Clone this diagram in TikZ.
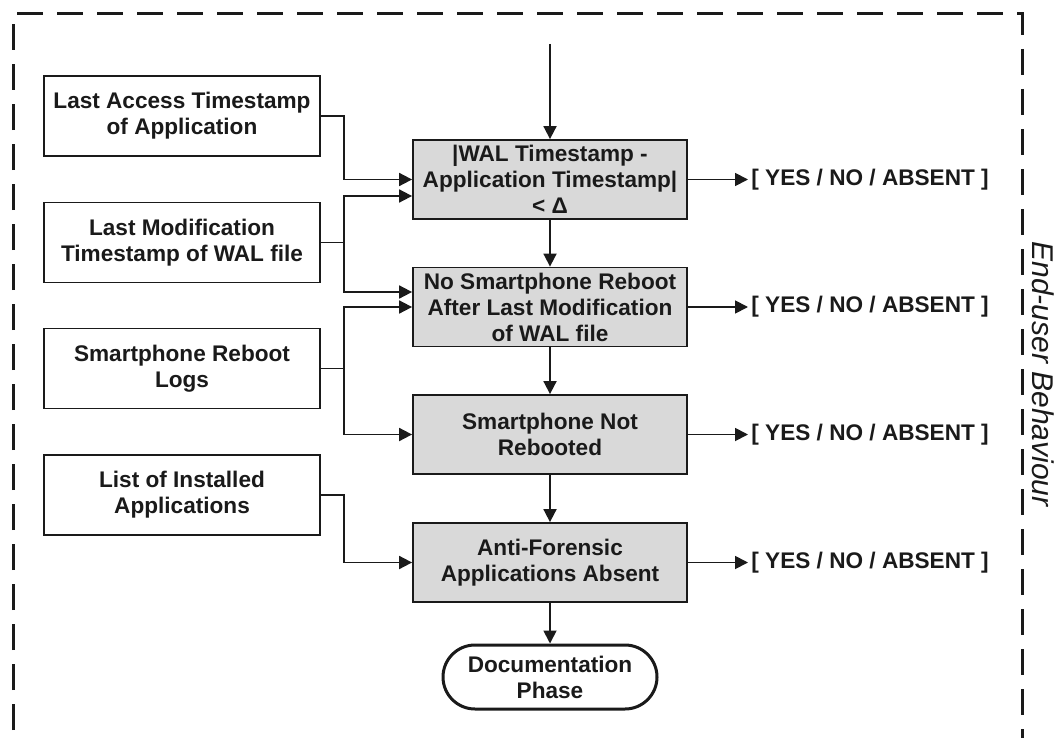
\documentclass[tikz,border=0pt]{standalone}
\usepackage{fontspec}
\setmainfont{Liberation Sans}
\usetikzlibrary{arrows.meta,calc}
\definecolor{boxgray}{HTML}{D9D9D9}
\definecolor{ink}{HTML}{1A1A1A}
\tikzset{
  every node/.style={font=\fontsize{11.3}{13}\selectfont\bfseries, text=ink, align=center},
  srcbox/.style={draw=ink, line width=0.9pt, fill=white, minimum width=138pt, minimum height=40pt, inner sep=0pt},
  testbox/.style={draw=ink, line width=0.9pt, fill=boxgray, minimum width=137pt, minimum height=39.5pt, inner sep=0pt},
  termbox/.style={draw=ink, line width=1.5pt, fill=white, rounded corners=16pt, minimum width=107pt, minimum height=32pt, inner sep=0pt},
  outcome/.style={anchor=west, inner sep=1.5pt},
  flow/.style={draw=ink, line width=0.9pt, -{Triangle[length=6.5pt,width=6.5pt]}},
  wire/.style={draw=ink, line width=0.9pt},
  frame/.style={draw=ink, line width=1.5pt, dash pattern=on 13pt off 7pt}
}
\begin{document}
\begin{tikzpicture}[x=0.5pt,y=-0.5pt]
  \useasboundingbox (0,0) rectangle (1059,738);
  \clip (0,0) rectangle (1059,738);

  % dashed enclosure, open below the visible area
  \draw[frame] (13,770) -- (13,14) -- (1022,14) -- (1022,770);
  \node[rotate=-90, font=\fontsize{15}{17}\selectfont\itshape] (lane) at (1043,374) {End-user Behaviour};

  % evidence sources
  \node[srcbox] (src1) at (182,116)   {Last Access Timestamp\\of Application};
  \node[srcbox] (src2) at (182,242.5) {Last Modification\\Timestamp of WAL file};
  \node[srcbox] (src3) at (182,368.5) {Smartphone Reboot\\Logs};
  \node[srcbox] (src4) at (182,495)   {List of Installed\\Applications};

  % checks
  \node[testbox] (t1) at (550,179.5) {|WAL Timestamp -\\Application Timestamp|\\< Δ};
  \node[testbox] (t2) at (550,307)   {No Smartphone Reboot\\After Last Modification\\of WAL file};
  \node[testbox] (t3) at (550,434.5) {Smartphone Not\\Rebooted};
  \node[testbox] (t4) at (550,562.5) {Anti-Forensic\\Applications Absent};

  \node[termbox] (doc) at (550,677) {Documentation\\Phase};

  % outcomes
  \node[outcome] (o1) at (748,179.5) {[ YES / NO / ABSENT ]};
  \node[outcome] (o2) at (748,307)   {[ YES / NO / ABSENT ]};
  \node[outcome] (o3) at (748,434.5) {[ YES / NO / ABSENT ]};
  \node[outcome] (o4) at (748,562.5) {[ YES / NO / ABSENT ]};

  % main flow
  \coordinate (entry) at (550,44);
  \draw[flow] (entry) -- (t1.north);
  \draw[flow] (t1.south) -- (t2.north);
  \draw[flow] (t2.south) -- (t3.north);
  \draw[flow] (t3.south) -- (t4.north);
  \draw[flow] (t4.south) -- (doc.north);

  \foreach \t/\o in {t1/o1,t2/o2,t3/o3,t4/o4}
    \draw[flow] (\t.east) -- (\o.west);

  % inputs to the checks
  \draw[flow] (src1.east) -- ++(23,0) |- (t1.west);

  \draw[wire] (src2.east) -- ++(23,0) coordinate (j2);
  \draw[flow] (j2) |- ([yshift=-8.25pt]t1.west);
  \draw[flow] (j2) |- ([yshift=7.5pt]t2.west);

  \draw[wire] (src3.east) -- ++(23,0) coordinate (j3);
  \draw[flow] (j3) |- (t2.west);
  \draw[flow] (j3) |- (t3.west);

  \draw[flow] (src4.east) -- ++(23,0) |- (t4.west);
\end{tikzpicture}
\end{document}
